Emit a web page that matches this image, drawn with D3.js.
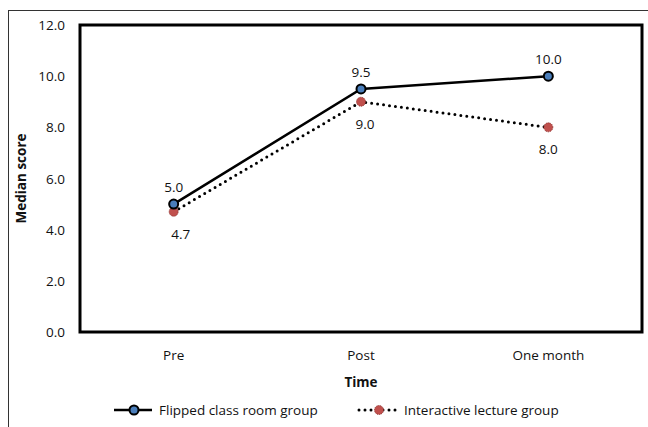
<!DOCTYPE html>
<html>
<head>
<meta charset="utf-8">
<script src="https://cdn.jsdelivr.net/npm/d3@7"></script>
<style>
  html, body { margin: 0; padding: 0; background: #fff; overflow: hidden; }
  svg { display: block; }
  text { font-family: "Open Sans", "Noto Sans", sans-serif; fill: #111; font-size: 13.5px; }
</style>
</head>
<body>
<svg id="chart"></svg>
<script>
const categories = ["Pre", "Post", "One month"];
const flipped = [5.0, 9.5, 10.0];
const interactive = [4.7, 9.0, 8.0];
const yTicks = [0, 2, 4, 6, 8, 10, 12];
const seriesNames = ["Flipped class room group", "Interactive lecture group"];

const width = 648, height = 427;
const margin = { top: 25, right: 6, bottom: 95, left: 80 };
const fmt = d3.format(".1f");

const svg = d3.select("#chart").attr("width", width).attr("height", height);

// outer frame (only top and left edges are in the crop)
svg.append("line").attr("x1", 8.5).attr("x2", 8.5).attr("y1", 10).attr("y2", height)
  .attr("stroke", "#333").attr("stroke-width", 1);
svg.append("line").attr("x1", 8).attr("x2", width).attr("y1", 10.5).attr("y2", 10.5)
  .attr("stroke", "#333").attr("stroke-width", 1);

// scales in page coordinates
const x = d3.scaleBand().domain(categories).range([margin.left, width - margin.right]);
const y = d3.scaleLinear().domain([0, 12]).range([height - margin.bottom, margin.top]);
const cx = d => x(d) + x.bandwidth() / 2;

// y tick labels
svg.append("g").attr("class", "y-labels")
  .selectAll("text").data(yTicks).join("text")
  .attr("x", margin.left - 15).attr("y", d => y(d) + 5)
  .attr("text-anchor", "end")
  .text(fmt);

// x tick labels
svg.append("g").attr("class", "x-labels")
  .selectAll("text").data(categories).join("text")
  .attr("x", cx).attr("y", y(0) + 28)
  .attr("text-anchor", "middle")
  .text(d => d);

// plot frame
svg.append("rect")
  .attr("x", margin.left).attr("y", margin.top)
  .attr("width", width - margin.left - margin.right)
  .attr("height", height - margin.top - margin.bottom)
  .attr("fill", "none").attr("stroke", "#000").attr("stroke-width", 3);

const line = d3.line().x((d, i) => cx(categories[i])).y(d => y(d));

svg.append("path").datum(interactive)
  .attr("d", line).attr("fill", "none").attr("stroke", "#000")
  .attr("stroke-width", 3).attr("stroke-dasharray", "0 6").attr("stroke-linecap", "round");

svg.append("path").datum(flipped)
  .attr("d", line).attr("fill", "none").attr("stroke", "#000").attr("stroke-width", 2.5);

svg.selectAll(".m-int").data(interactive).join("circle")
  .attr("cx", (d, i) => cx(categories[i])).attr("cy", d => y(d)).attr("r", 4.5)
  .attr("fill", "#c0504d").attr("stroke", "#8b2e2b").attr("stroke-width", 1)
  .attr("stroke-dasharray", "1 1");

svg.selectAll(".m-flip").data(flipped).join("circle")
  .attr("cx", (d, i) => cx(categories[i])).attr("cy", d => y(d)).attr("r", 4.5)
  .attr("fill", "#4a7ebb").attr("stroke", "#000").attr("stroke-width", 2);

// data labels
svg.selectAll(".lbl-flip").data(flipped).join("text")
  .attr("x", (d, i) => cx(categories[i])).attr("y", d => y(d) - 12)
  .attr("text-anchor", "middle")
  .text(fmt);

// labels below the dotted series sit a bit right of the marker, like excel did
svg.selectAll(".lbl-int").data(interactive).join("text")
  .attr("x", (d, i) => cx(categories[i]) + [7, 4, 0][i]).attr("y", d => y(d) + 27)
  .attr("text-anchor", "middle")
  .text(fmt);

// axis titles
svg.append("text")
  .attr("transform", `translate(26,${(y(0) + y(12)) / 2}) rotate(-90)`)
  .attr("text-anchor", "middle").style("font-weight", "bold")
  .text("Median score");

svg.append("text")
  .attr("x", (margin.left + width - margin.right) / 2).attr("y", 387)
  .attr("text-anchor", "middle").style("font-weight", "bold")
  .text("Time");

// legend
const leg = svg.append("g").attr("transform", "translate(0,410)");
leg.append("line").attr("x1", 114).attr("x2", 152).attr("y1", 0).attr("y2", 0)
  .attr("stroke", "#000").attr("stroke-width", 2.5);
leg.append("circle").attr("cx", 134).attr("cy", 0).attr("r", 4.5)
  .attr("fill", "#4a7ebb").attr("stroke", "#000").attr("stroke-width", 2);
leg.append("text").attr("x", 159).attr("y", 5).text(seriesNames[0]);

leg.append("line").attr("x1", 359).attr("x2", 398).attr("y1", 0).attr("y2", 0)
  .attr("stroke", "#000").attr("stroke-width", 3).attr("stroke-dasharray", "0 6").attr("stroke-linecap", "round");
leg.append("circle").attr("cx", 379).attr("cy", 0).attr("r", 4.5)
  .attr("fill", "#c0504d").attr("stroke", "#8b2e2b").attr("stroke-width", 1).attr("stroke-dasharray", "1 1");
leg.append("text").attr("x", 404).attr("y", 5).text(seriesNames[1]);
</script>
</body>
</html>
